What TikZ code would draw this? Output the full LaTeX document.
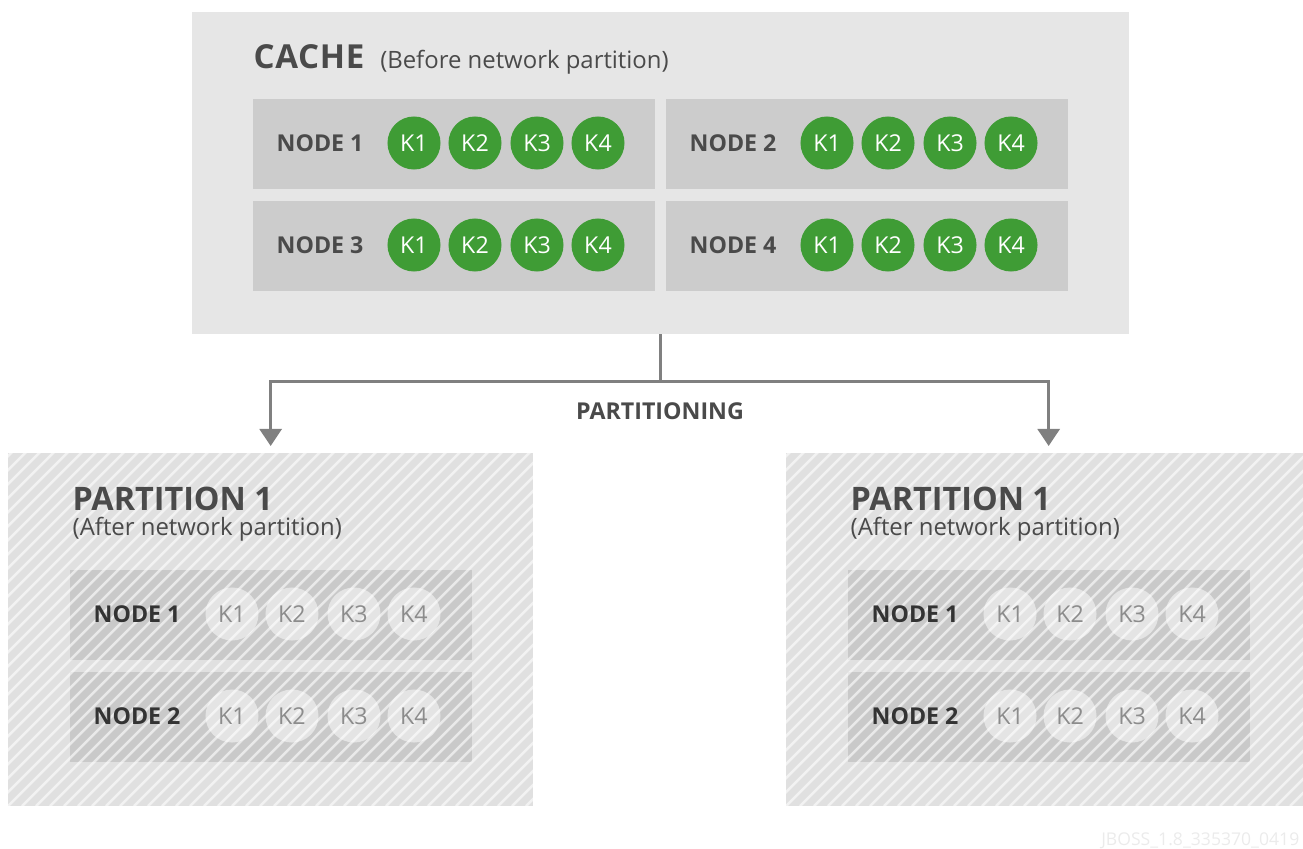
\documentclass[tikz,border=0pt]{standalone}
\usepackage{fontspec}
\setmainfont{Open Sans}
\usetikzlibrary{arrows.meta,positioning}
\definecolor{cachebg}{HTML}{E6E6E6}
\definecolor{rowbg}{HTML}{CCCCCC}
\definecolor{keygreen}{HTML}{3F9C35}
\definecolor{txt}{HTML}{4A4A4A}
\definecolor{partbg}{HTML}{E0E0E0}
\definecolor{prowbg}{HTML}{C9C9C9}
\definecolor{pkeybg}{HTML}{E4E4E4}
\definecolor{conn}{HTML}{808080}

\begin{document}
\begin{tikzpicture}[x=0.01cm,y=-0.01cm,
  box/.style={inner sep=0,outer sep=0,anchor=north west},
  row/.style={box,fill=#1,minimum width=4.02cm,minimum height=0.895cm},
  key/.style={circle,inner sep=0,fill=#1,minimum size=0.53cm},
  lbl/.style={anchor=west,inner sep=0,text=txt,font=\fontsize{6.6}{8}\selectfont\bfseries},
  ktxt/.style={inner sep=0,font=\fontsize{6.6}{8}\selectfont},
  hatch/.style={white,opacity=0.6,line width=0.7pt},
  link/.style={conn,line width=0.8pt}]
\useasboundingbox (0,0) rectangle (1303,848);

% cache before partitioning
\node[box,fill=cachebg,minimum width=9.36cm,minimum height=3.22cm] (cache) at (192,12) {};
\node[anchor=base west,inner sep=0,text=txt] (cachettl) at (253,68)
  {{\fontsize{9.4}{11}\selectfont\bfseries\addfontfeatures{LetterSpace=2}CACHE}\hspace{0.45em}{\fontsize{6.8}{8}\selectfont(Before network partition)}};
\foreach \n/\px/\py in {1/253/99,2/666/99,3/253/201,4/666/201}{
  \node[row=rowbg] (row\n) at (\px,\py) {};
  \node[lbl] (lbl\n) at (\px+23,\py+44) {NODE \n};
  \foreach \k/\dx in {1/161,2/222,3/284,4/345}
    \node[key=keygreen,text=white,font=\fontsize{6.6}{8}\selectfont] (n\n-k\k) at (\px+\dx,\py+44) {K\k};
}

% partitioning arrows
\draw[link] (cache.south) -- ++(0,47) coordinate (split);
\node[inner sep=0,text=txt,font=\fontsize{6.6}{8}\selectfont\bfseries] (parting) at (660,411) {PARTITIONING};

% partitions after
\foreach \p/\px in {1/8,2/786}{
  \node[box,fill=partbg,minimum width=5.25cm,minimum height=3.53cm] (p\p) at (\px,453) {};
  \foreach \r/\py in {1/570,2/672}{
    \node[row=prowbg] (p\p-r\r) at (\px+62,\py) {};
    \foreach \k/\dx in {1/224,2/284,3/346,4/406}
      \node[key=pkeybg] (p\p-r\r-k\k) at (\px+\dx,\py+44) {};
  }
  \begin{scope}
    \clip (p\p.north west) rectangle (p\p.south east);
    \foreach \s in {-364,-350,...,540}
      \draw[hatch] (\px+\s,806) -- ++(360,-360);
  \end{scope}
  \node[anchor=base west,inner sep=0,text=txt,font=\fontsize{9.2}{11}\selectfont\bfseries] (p\p-ttl) at (\px+64,510) {PARTITION 1};
  \node[anchor=base west,inner sep=0,text=txt,font=\fontsize{6.8}{8}\selectfont] (p\p-sub) at (\px+64,535) {(After network partition)};
  \foreach \r in {1,2}{
    \node[lbl,text=black!80] (p\p-r\r-lbl) at (\px+85,\r*102+512) {NODE \r};
    \foreach \k in {1,...,4}
      \node[ktxt,text=black!45] (p\p-r\r-t\k) at (p\p-r\r-k\k) {K\k};
  }
}
\draw[link,-{Triangle[width=0.22cm,length=0.17cm]},shorten >=2pt] (split) -| (p1.north);
\draw[link,-{Triangle[width=0.22cm,length=0.17cm]},shorten >=2pt] (split) -| (p2.north);

\node[anchor=base east,inner sep=0,text=black!8,font=\fontsize{5}{6}\selectfont] (code) at (1300,845) {JBOSS\_1.8\_335370\_0419};
\end{tikzpicture}
\end{document}
